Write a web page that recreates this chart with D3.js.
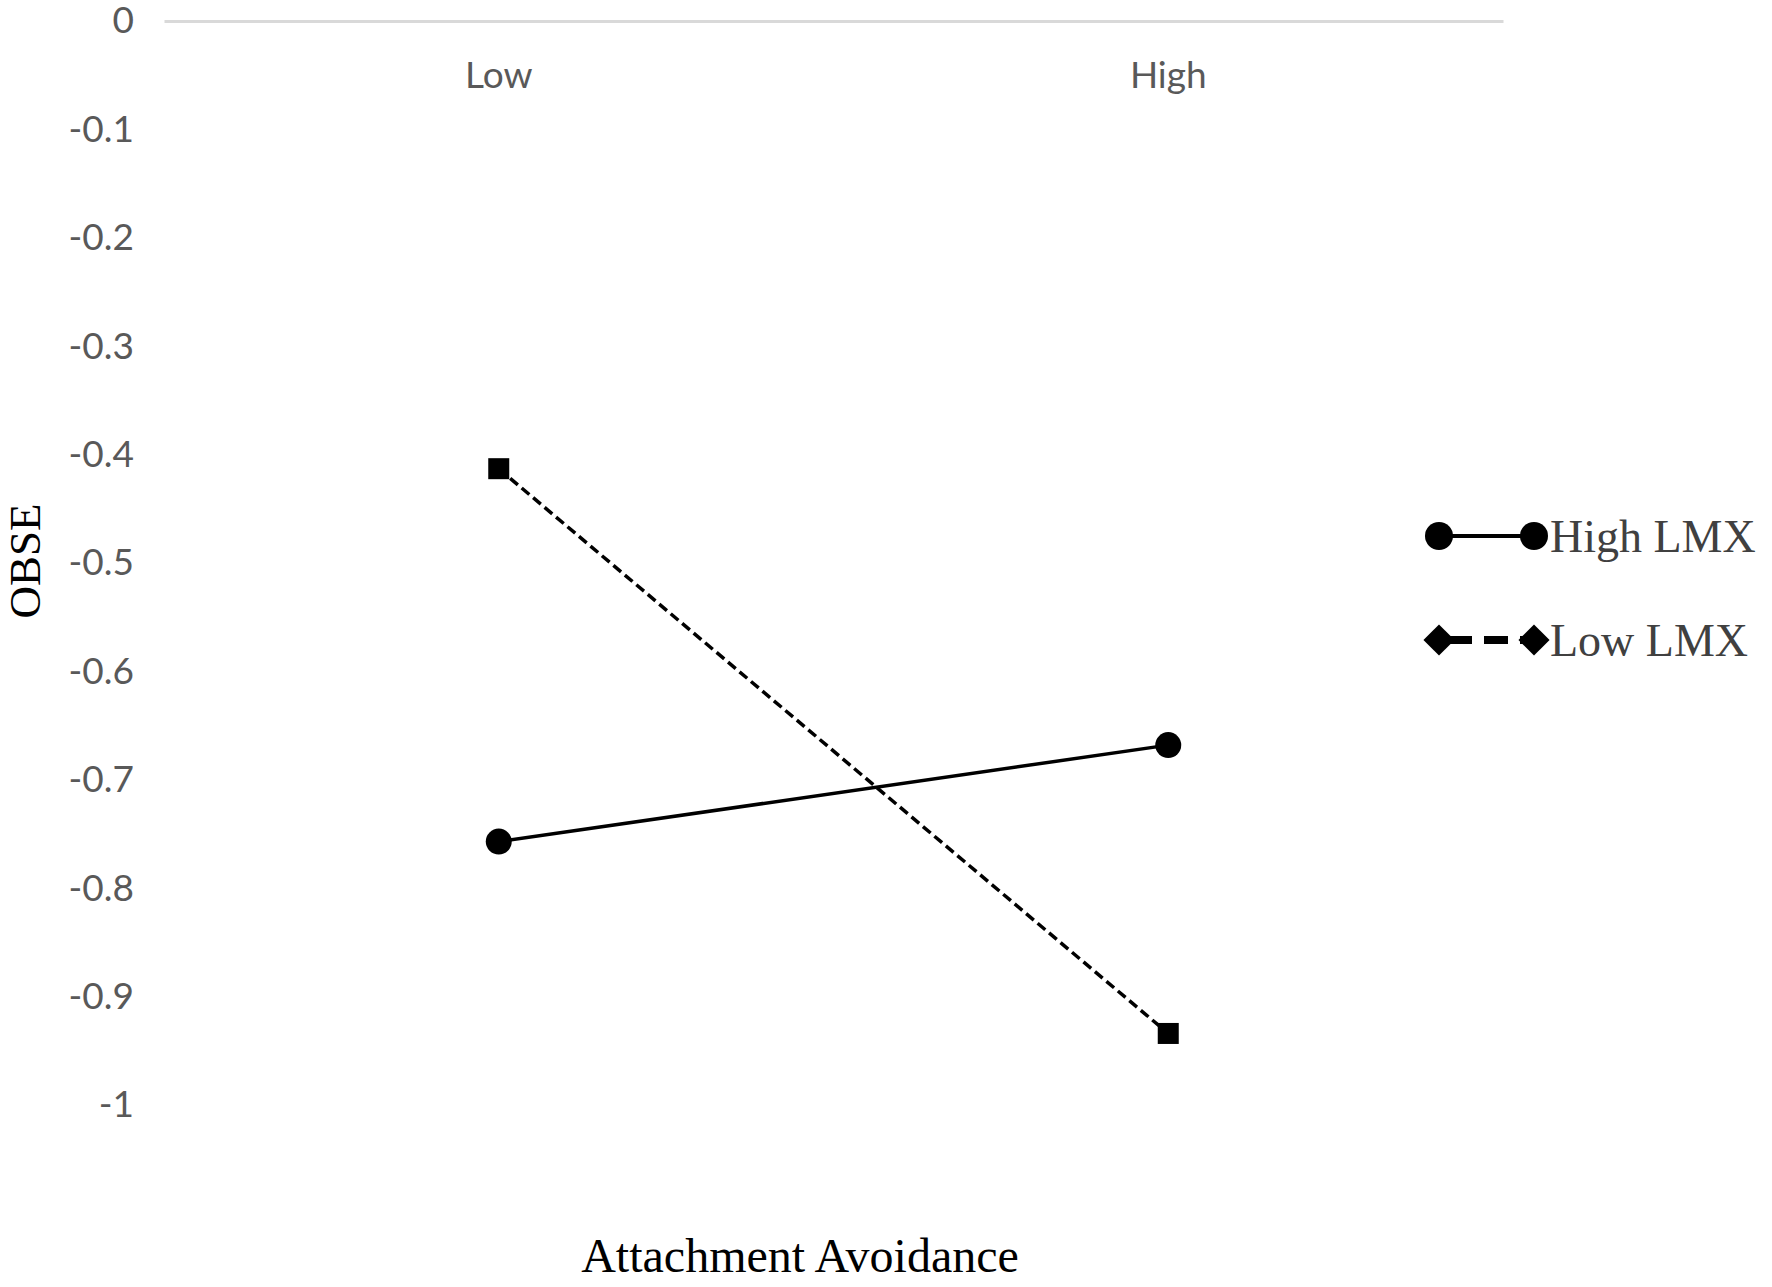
<!DOCTYPE html>
<html>
<head>
<meta charset="utf-8">
<script src="https://cdn.jsdelivr.net/npm/d3@7"></script>
<style>
  body { margin: 0; background: #fff; }
  svg { display: block; }
</style>
</head>
<body>
<div id="chart"></div>
<script>
// categories on the x axis
var categories = ["Low", "High"];
// series values (OBSE)
var highLMX = [-0.757, -0.668];
var lowLMX = [-0.413, -0.934];
var seriesNames = ["High LMX", "Low LMX"];
var yTicks = [0, -0.1, -0.2, -0.3, -0.4, -0.5, -0.6, -0.7, -0.8, -0.9, -1];

var width = 1772, height = 1287;

var svg = d3.select("#chart").append("svg")
    .attr("width", width)
    .attr("height", height);

var x = d3.scaleBand()
    .domain(categories)
    .range([164, 1503]);

var y = d3.scaleLinear()
    .domain([-1, 0])
    .range([1105, 21]);

// y axis labels
var yAxis = svg.append("g")
    .attr("transform", "translate(134,0)")
    .call(d3.axisLeft(y).tickValues(yTicks).tickSize(0).tickPadding(0)
        .tickFormat(function (d) { return d === 0 ? "0" : String(d); }));
yAxis.select(".domain").remove();
yAxis.selectAll("text")
    .attr("font-family", "Lato, 'Open Sans', sans-serif")
    .attr("font-size", 37)
    .attr("fill", "#595959");

// category axis at zero
var xAxis = svg.append("g")
    .attr("transform", "translate(0," + y(0) + ")")
    .call(d3.axisBottom(x).tickSize(0).tickSizeOuter(0));
xAxis.select(".domain")
    .attr("stroke", "#d9d9d9")
    .attr("stroke-width", 3);
xAxis.selectAll("text")
    .attr("y", 67)
    .attr("dy", 0)
    .attr("font-family", "Lato, 'Open Sans', sans-serif")
    .attr("font-size", 37)
    .attr("fill", "#595959");

function cx(d, i) { return x(categories[i]) + x.bandwidth() / 2; }

var line = d3.line()
    .x(function (d, i) { return cx(d, i); })
    .y(function (d) { return y(d); });

// Low LMX dashed line with squares
svg.append("path")
    .datum(lowLMX)
    .attr("d", line)
    .attr("fill", "none")
    .attr("stroke", "#000")
    .attr("stroke-width", 3.5)
    .attr("stroke-dasharray", "10,5");

svg.selectAll(".sq")
    .data(lowLMX)
    .enter().append("rect")
    .attr("class", "sq")
    .attr("x", function (d, i) { return cx(d, i) - 10.5; })
    .attr("y", function (d) { return y(d) - 10.5; })
    .attr("width", 21)
    .attr("height", 21)
    .attr("fill", "#000");

// High LMX solid line with circles
svg.append("path")
    .datum(highLMX)
    .attr("d", line)
    .attr("fill", "none")
    .attr("stroke", "#000")
    .attr("stroke-width", 3.5);

svg.selectAll(".dot")
    .data(highLMX)
    .enter().append("circle")
    .attr("class", "dot")
    .attr("cx", cx)
    .attr("cy", function (d) { return y(d); })
    .attr("r", 13)
    .attr("fill", "#000");

// axis titles
svg.append("text")
    .attr("transform", "translate(40,561) rotate(-90)")
    .attr("text-anchor", "middle")
    .attr("font-family", "'Liberation Serif', 'Times New Roman', serif")
    .attr("font-size", 45)
    .attr("fill", "#000")
    .text("OBSE");

svg.append("text")
    .attr("x", 800)
    .attr("y", 1272)
    .attr("text-anchor", "middle")
    .attr("font-family", "'Liberation Serif', 'Times New Roman', serif")
    .attr("font-size", 48)
    .attr("fill", "#000")
    .text("Attachment Avoidance");

// legend
var legend = svg.append("g");
var legendY = [536, 640];

legend.append("line")
    .attr("x1", 1439).attr("x2", 1534)
    .attr("y1", legendY[0]).attr("y2", legendY[0])
    .attr("stroke", "#000").attr("stroke-width", 4);
[1439, 1534].forEach(function (lx) {
    legend.append("circle")
        .attr("cx", lx).attr("cy", legendY[0]).attr("r", 14)
        .attr("fill", "#000");
});

legend.append("line")
    .attr("x1", 1448).attr("x2", 1524)
    .attr("y1", legendY[1]).attr("y2", legendY[1])
    .attr("stroke", "#000").attr("stroke-width", 8)
    .attr("stroke-dasharray", "24,12");
[1439, 1534].forEach(function (lx) {
    legend.append("path")
        .attr("d", d3.symbol().type(d3.symbolDiamond2).size(620))
        .attr("transform", "translate(" + lx + "," + legendY[1] + ")")
        .attr("fill", "#000");
});

legend.selectAll(".ltext")
    .data(seriesNames)
    .enter().append("text")
    .attr("class", "ltext")
    .attr("x", 1550)
    .attr("y", function (d, i) { return legendY[i]; })
    .attr("dy", "0.35em")
    .attr("font-family", "'Liberation Serif', 'Times New Roman', serif")
    .attr("font-size", 46)
    .attr("fill", "#404040")
    .text(function (d) { return d; });
</script>
</body>
</html>
